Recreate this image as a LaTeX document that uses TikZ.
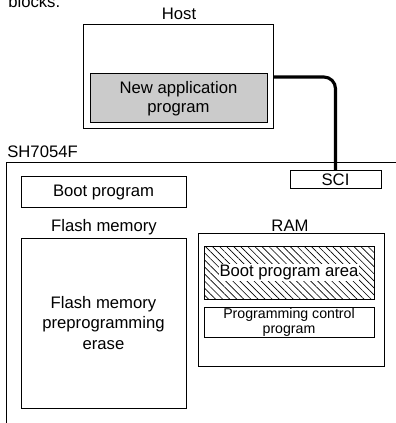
\documentclass[tikz,border=0pt]{standalone}
\usepackage{fontspec}
\setmainfont{Liberation Sans}
\usetikzlibrary{patterns.meta}
\definecolor{app-gray}{HTML}{CBCBCB}

\begin{document}
\begin{tikzpicture}[
    x=0.6pt, y=-0.6pt,
    font=\fontsize{10}{11.5}\selectfont,
    blk/.style={draw, line width=0.6pt, inner sep=0pt, outer sep=0pt, align=center},
    lbl/.style={inner sep=0pt, align=center},
    link/.style={line width=1.9pt, rounded corners=7pt}
]
\useasboundingbox (0,0) rectangle (395,423);

\node[lbl, anchor=base west] (cap) at (8,7.3) {blocks.};

% host side
\node[lbl] (hostlbl) at (179,13.5) {Host};
\node[blk, minimum width=114pt, minimum height=62.4pt] (host) at (178,77) {};
\node[blk, fill=app-gray, minimum width=106.2pt, minimum height=29.4pt] (newapp) at (178.5,98.5) {New application\\program};

% chip
\node[lbl, anchor=west] (chiplbl) at (7,152) {SH7054F};
\draw[line width=0.6pt] (6,430) -- (6,163) -- (400,163);

\node[blk, minimum width=54.6pt, minimum height=10.8pt] (sci) at (335.5,180) {SCI};
\node[blk, minimum width=99pt, minimum height=18.6pt] (boot) at (103.5,192.5) {Boot program};

\node[lbl] (flashlbl) at (104,227) {Flash memory};
\node[blk, font=\fontsize{10}{12.5}\selectfont, minimum width=99pt, minimum height=102pt] (flash) at (103.5,323) {Flash memory\\preprogramming\\erase};

\node[lbl] (ramlbl) at (290,226) {RAM};
\node[blk, minimum width=111.6pt, minimum height=79.8pt] (ram) at (291,299.5) {};
\node[blk, pattern={Lines[angle=-45, distance=3pt, line width=0.4pt]}, minimum width=102pt, minimum height=31.8pt] (bootarea) at (289,272.5) {};
\node[lbl, fill=white, inner sep=0.6pt] (bootarealbl) at (bootarea) {Boot program area};
\node[blk, font=\fontsize{8.5}{9}\selectfont, minimum width=102pt, minimum height=18pt] (pcp) at (289,322) {Programming control\\program};

\draw[link] (host.east) -| (sci.north);
\end{tikzpicture}
\end{document}
